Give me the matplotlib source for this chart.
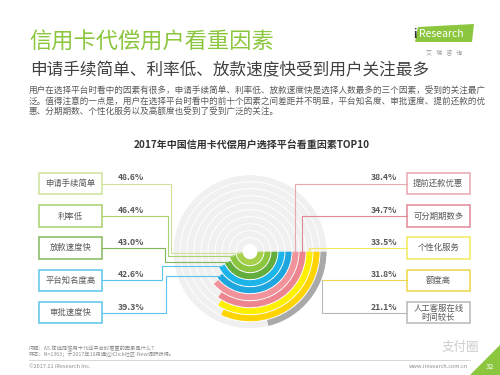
import numpy as np
import matplotlib
matplotlib.use("Agg")
import matplotlib.pyplot as plt
from matplotlib.patches import Rectangle, Polygon

plt.rcParams['font.family'] = ['Noto Sans CJK SC', 'DejaVu Sans']

# ---------------- data ----------------
factors = ["申请手续简单", "利率低", "放款速度快", "平台知名度高", "审批速度快",
           "提前还款优惠", "可分期期数多", "个性化服务", "额度高", "人工客服在线\n时间较长"]
values = [48.6, 46.4, 43.0, 42.6, 39.3, 38.4, 34.7, 33.5, 31.8, 21.1]
value_labels = ["48.6%", "46.4%", "43.0%", "42.6%", "39.3%",
                "38.4%", "34.7%", "33.5%", "31.8%", "21.1%"]

title = "信用卡代偿用户看重因素"
subtitle = "申请手续简单、利率低、放款速度快受到用户关注最多"
para = ["用户在选择平台时看中的因素有很多，申请手续简单、利率低、放款速度快是选择人数最多的三个因素，受到的关注最广",
        "泛。值得注意的一点是，用户在选择平台时看中的前十个因素之间差距并不明显，平台知名度、审批速度、提前还款的优",
        "惠、分期期数、个性化服务以及高额度也受到了受到广泛的关注。"]
chart_title = "2017年中国信用卡代偿用户选择平台看重因素TOP10"
footer1 = "问题：A5.您选择信用卡代还平台时看重的因素是什么？"
footer2 = "样本：N=1363；于2017年10月通过iClick社区-New调研获得。"

# ---------------- style ----------------
ring_colors = ["#a9d04c", "#8cc63f", "#62ad3b", "#1cb5ea", "#1fa6de",
               "#f2929b", "#ec858f", "#fff000", "#ffd400", "#a9a9a9"]
edge_colors = ["#cfe29a", "#a9d16e", "#82b85a", "#58c6ec", "#5ac4ea",
               "#eba7b0", "#e08896", "#f1ea5e", "#eed64a", "#b8b8b8"]
text_grey = "#595959"

W, H = 500, 375
fig = plt.figure(figsize=(5, 3.75), dpi=100)

# polar axes for the ring bars
cx, cy, R = 250, 251.7, 77
pax = fig.add_axes([(cx - R) / W, (H - cy - R) / H, 2 * R / W, 2 * R / H],
                   projection='polar', zorder=2)
pax.set_theta_zero_location('E')
pax.set_theta_direction(-1)
n = len(values)
rmax = n + 1
pax.set_ylim(0, rmax)
pax.set_axis_off()
bar_h = 0.86
for i in range(n):
    pax.bar(0, bar_h, width=2 * np.pi, bottom=1 + i + (1 - bar_h) / 2,
            align='edge', color="#f0f0f0", linewidth=0)
for i, v in enumerate(values):
    pax.bar(0, bar_h, width=np.deg2rad(v * 3.6), bottom=1 + i + (1 - bar_h) / 2,
            align='edge', color=ring_colors[i], linewidth=0)

# overlay axes in pixel coordinates
ov = fig.add_axes([0, 0, 1, 1], zorder=3)
ov.set_xlim(0, W)
ov.set_ylim(H, 0)
ov.set_axis_off()
ov.patch.set_alpha(0)

def pol2px(theta_deg, r):
    d = pax.transData.transform((np.deg2rad(theta_deg), r))
    return ov.transData.inverted().transform(d)

# header
ov.text(29, 42.5, title, fontsize=16, color="#8cc63f", va='center', ha='left',
        fontweight='light')
ov.text(30, 70.5, subtitle, fontsize=12, color="#404040", va='center', ha='left',
        fontweight='light')
for k, line in enumerate(para):
    ov.text(29, 90.7 + 10.2 * k, line, fontsize=6.2, color=text_grey, va='center', ha='left')

# logo
ov.add_patch(Polygon([(418, 27), (474, 24), (472, 42), (415, 42)], closed=True,
                     facecolor="#8cc63f", edgecolor='none'))
ov.text(413, 34, "i", fontsize=8, color="#333333", va='center', ha='left', fontweight='bold')
ov.text(419, 34, "Research", fontsize=7.5, color="white", va='center', ha='left')
ov.text(444, 53, "艾   瑞   咨   询", fontsize=4.3, color="#999999", va='center', ha='center')

# chart title
ov.text(251.7, 145, chart_title, fontsize=7.2, color="#333333", va='center', ha='center',
        fontweight='bold')

# label boxes and connectors
box_y = [183.5, 216, 247.8, 280.3, 312.5]
box_h = 21.5
left_x0, left_x1 = 39, 102
right_x0, right_x1 = 406.7, 470
left_vx = [171, 168, 165, 162, 166]
ring_mid = [1 + i + 0.5 for i in range(n)]
center_px = pol2px(0, 0)
outer_px = pol2px(0, rmax)
Rpx = outer_px[0] - center_px[0]
right_vx_outer = 321.7

for j in range(5):
    i = j
    y = box_y[j]
    ov.add_patch(Rectangle((left_x0, y - box_h / 2), left_x1 - left_x0, box_h,
                           facecolor='white', edgecolor=edge_colors[i], linewidth=1.1))
    ov.text((left_x0 + left_x1) / 2, y, factors[i], fontsize=6, color=text_grey,
            va='center', ha='center')
    ov.text(130.7, y - 5.5, value_labels[i], fontsize=6.2, color=text_grey,
            va='center', ha='center', fontweight='bold')
    ex, ey = pol2px(values[i] * 3.6, ring_mid[i])
    vx = left_vx[j]
    ov.plot([left_x1, vx, vx, ex], [y, y, ey, ey], color=edge_colors[i], lw=0.8,
            solid_joinstyle='miter')

for j in range(5):
    i = j + 5
    y = box_y[j]
    ov.add_patch(Rectangle((right_x0, y - box_h / 2), right_x1 - right_x0, box_h,
                           facecolor='white', edgecolor=edge_colors[i], linewidth=1.1))
    ov.text((right_x0 + right_x1) / 2, y, factors[i], fontsize=6, color=text_grey,
            va='center', ha='center', linespacing=1.0)
    ov.text(383.7, y - 5.5, value_labels[i], fontsize=6.2, color=text_grey,
            va='center', ha='center', fontweight='bold')
    if y < center_px[1]:
        sx, sy = pol2px(0, ring_mid[i])
        ov.plot([right_x0, sx, sx], [y, y, sy], color=edge_colors[i], lw=0.8)
    else:
        vx = right_vx_outer
        ey = center_px[1] + np.sqrt(max(Rpx ** 2 - (vx - center_px[0]) ** 2, 0))
        ov.plot([right_x0, vx, vx], [y, y, min(ey, y)], color=edge_colors[i], lw=0.8)

# footer
ov.text(29, 349, footer1, fontsize=3.8, color="#8c8c8c", va='center', ha='left')
ov.text(29, 354.5, footer2, fontsize=3.8, color="#8c8c8c", va='center', ha='left')
ov.plot([29, 470], [359.5, 359.5], color="#c8c8c8", lw=0.5)
ov.text(29, 366.7, "©2017.11 iResearch Inc.", fontsize=4, color="#8c8c8c", va='center', ha='left')
ov.text(468, 366.7, "www.iresearch.com.cn", fontsize=4, color="#8c8c8c", va='center', ha='right')
ov.text(460, 347, "支付圈", fontsize=9, color="#cccccc", va='center', ha='center')
ov.add_patch(Polygon([(500, 345), (500, 375), (470, 375)], closed=True,
                     facecolor="#8cc63f", edgecolor='none'))
ov.text(490, 367, "32", fontsize=5.5, color="white", va='center', ha='center')

fig.savefig("out.png", dpi=100)
